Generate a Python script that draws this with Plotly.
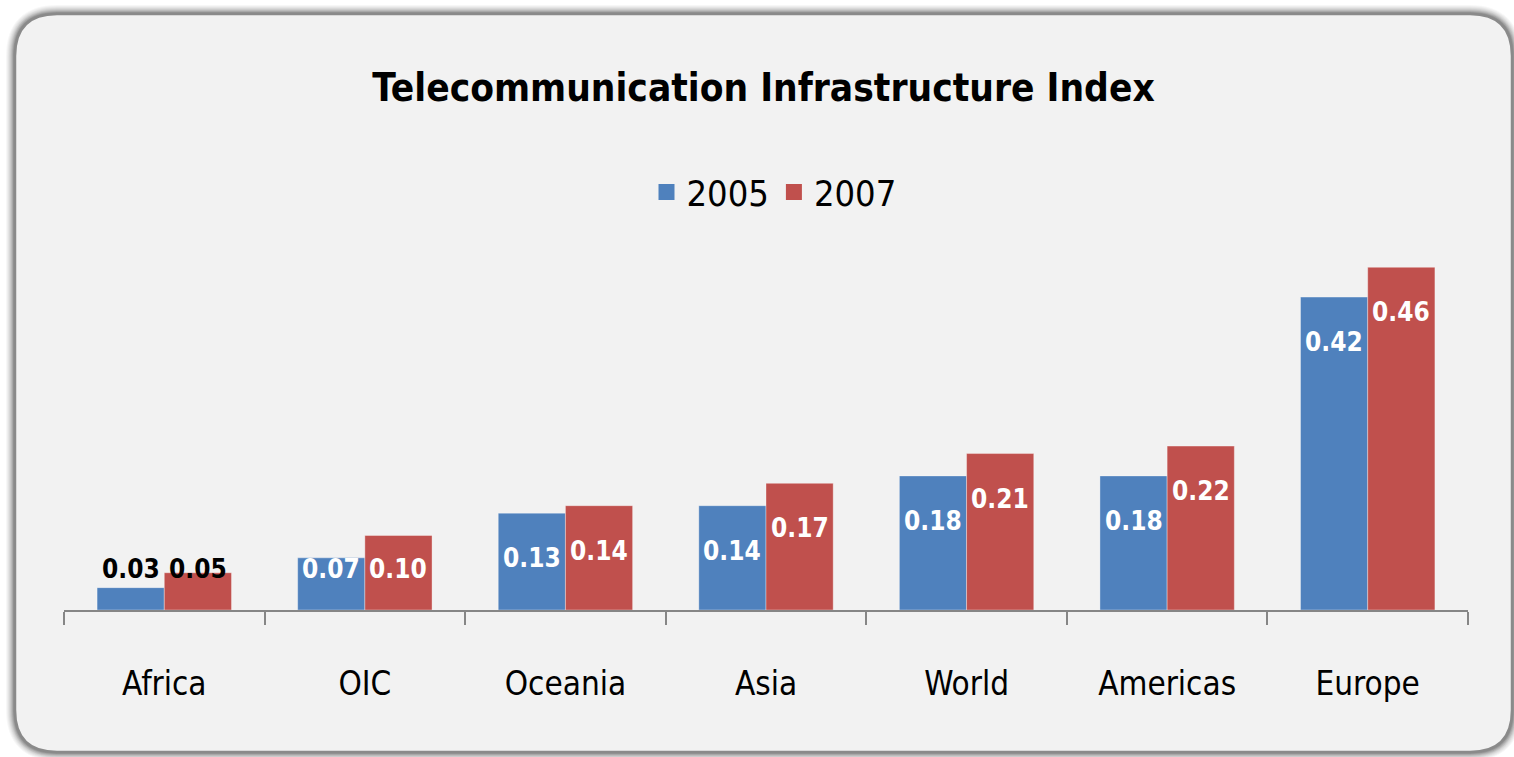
import plotly.graph_objects as go

categories = ["Africa", "OIC", "Oceania", "Asia", "World", "Americas", "Europe"]
series_names = ["2005", "2007"]
values_2005 = [0.03, 0.07, 0.13, 0.14, 0.18, 0.18, 0.42]
values_2007 = [0.05, 0.10, 0.14, 0.17, 0.21, 0.22, 0.46]
label_2005 = ["0.03", "0.07", "0.13", "0.14", "0.18", "0.18", "0.42"]
label_2007 = ["0.05", "0.10", "0.14", "0.17", "0.21", "0.22", "0.46"]
title_text = "Telecommunication Infrastructure Index"

W, H = 1514, 757
ML, MR, MT, MB = 64, 46, 250, 147
BARGAP = 0.33
YMAX = (H - MT - MB) / 745.0

FONT = "DejaVu Sans Condensed, Liberation Sans Narrow, Arial Narrow, sans-serif"
BLUE = "#4f81bd"
RED = "#c0504d"
CARD = "#f2f2f2"

fig = go.Figure()
for name, vals, color in [(series_names[0], values_2005, BLUE), (series_names[1], values_2007, RED)]:
    fig.add_trace(go.Bar(
        x=categories, y=vals, name=name, marker_color=color,
        marker_line=dict(color="rgba(255,255,255,0.35)", width=1),
        showlegend=False, hoverinfo="skip",
    ))
    fig.add_trace(go.Scatter(
        x=[None], y=[None], mode="markers", name=name,
        marker=dict(symbol="square", size=16, color=color),
        showlegend=True,
    ))

# data labels
plot_w = W - ML - MR
bar_w = plot_w / len(categories) * (1 - BARGAP) / 2
annotations = []
for vals, labels, sign in [(values_2005, label_2005, -1), (values_2007, label_2007, 1)]:
    for c, v, t in zip(categories, vals, labels):
        annotations.append(dict(
            x=c, y=max(v, 0.115), xref="x", yref="y", text=t, showarrow=False,
            xshift=sign * bar_w / 2, yshift=-45, yanchor="middle", xanchor="center",
            font=dict(family=FONT, size=26, color="black" if v < 0.06 else "white",
                      weight="bold"),
        ))

# card (rounded rect) in pixel coords relative to plot origin
def rrect(x0, y0, x1, y1, r):
    return (f"M{x0 + r},{y0} L{x1 - r},{y0} Q{x1},{y0} {x1},{y0 + r} "
            f"L{x1},{y1 - r} Q{x1},{y1} {x1 - r},{y1} L{x0 + r},{y1} "
            f"Q{x0},{y1} {x0},{y1 - r} L{x0},{y0 + r} Q{x0},{y0} {x0 + r},{y0} Z")

def to_rel(px, py):
    return px - ML, (H - MB) - py

cx0, cy0 = to_rel(15, 752)
cx1, cy1 = to_rel(1512, 14)
shapes = []
for i, a in zip(range(8, 0, -1), [0.03, 0.035, 0.04, 0.05, 0.06, 0.08, 0.1, 0.12]):
    shapes.append(dict(
        type="path", xref="paper", yref="paper", xsizemode="pixel", ysizemode="pixel",
        xanchor=0, yanchor=0, path=rrect(cx0, cy0, cx1, cy1, 42),
        line=dict(color=f"rgba(0,0,0,{a})", width=2 * i + 2), fillcolor="rgba(0,0,0,0)",
        layer="below",
    ))
shapes.append(dict(
    type="path", xref="paper", yref="paper", xsizemode="pixel", ysizemode="pixel",
    xanchor=0, yanchor=0, path=rrect(cx0, cy0, cx1, cy1, 42),
    line=dict(color="#8a8a8a", width=2.5), fillcolor=CARD, layer="below",
))

fig.update_layout(
    width=W, height=H,
    margin=dict(l=ML, r=MR, t=MT, b=MB, autoexpand=False),
    paper_bgcolor="white", plot_bgcolor="rgba(0,0,0,0)",
    barmode="group", bargap=BARGAP, bargroupgap=0,
    title=dict(text=title_text, x=(15 + 1512) / 2 / W, xref="container", xanchor="center",
               y=1 - 88 / H, yref="container", yanchor="middle",
               font=dict(family=FONT, size=38.5, color="black", weight="bold")),
    legend=dict(orientation="h", x=774 / W, xref="container", xanchor="center",
                y=1 - 192 / H, yref="container", yanchor="middle",
                font=dict(family=FONT, size=36, color="black"),
                bgcolor="rgba(0,0,0,0)", itemwidth=30, tracegroupgap=0),
    xaxis=dict(showline=True, linecolor="#868686", linewidth=1.5,
               ticks="outside", tickson="boundaries", ticklen=13, tickcolor="#868686",
               tickwidth=1.5, showgrid=False, ticklabelstandoff=44,
               tickfont=dict(family=FONT, size=33, color="black")),
    yaxis=dict(range=[0, YMAX], visible=False, showgrid=False, zeroline=False),
    shapes=shapes, annotations=annotations,
)

fig.write_html("out.html", config={"displayModeBar": False},
               post_script="document.body.style.margin='0';")
